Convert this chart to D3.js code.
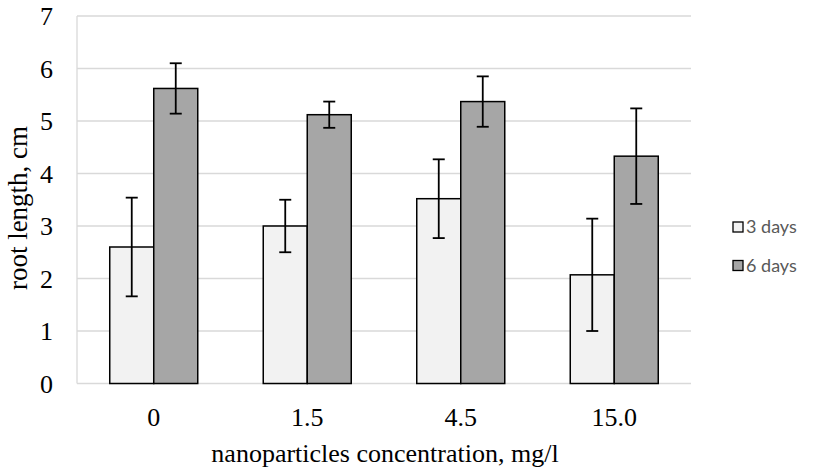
<!DOCTYPE html>
<html><head><meta charset="utf-8">
<script src="https://cdn.jsdelivr.net/npm/d3@7"></script>
<style>body{margin:0;background:#fff}svg{display:block}</style>
</head><body>
<svg id="c" width="815" height="473"></svg>
<script>
const categories = ["0", "1.5", "4.5", "15.0"];
const seriesNames = ["3 days", "6 days"];
const days3 = [2.60, 3.00, 3.52, 2.07];
const days6 = [5.62, 5.12, 5.37, 4.33];
const err3 = [0.94, 0.50, 0.75, 1.07];
const err6 = [0.48, 0.25, 0.48, 0.91];
const yTicks = [0, 1, 2, 3, 4, 5, 6, 7];

const colors = ["#f2f2f2", "#a6a6a6"];
const svg = d3.select("#c");
const L = 77, R = 691, T = 16, B = 383.5;

const x = d3.scaleBand().domain(categories).range([L, R]).paddingInner(0.4267).paddingOuter(0.2133);
const xs = d3.scaleBand().domain(seriesNames).range([0, x.bandwidth()]);
const y = d3.scaleLinear().domain([0, 7]).range([B, T]);

// gridlines
svg.append("g").selectAll("line").data(yTicks.filter(d => d > 0)).join("line")
  .attr("x1", L).attr("x2", R).attr("y1", d => y(d)).attr("y2", d => y(d))
  .attr("stroke", "#d9d9d9").attr("stroke-width", 1.3);
svg.append("line").attr("x1", L).attr("x2", L).attr("y1", T).attr("y2", B).attr("stroke", "#d9d9d9").attr("stroke-width", 1.3);
svg.append("line").attr("x1", L).attr("x2", R).attr("y1", B).attr("y2", B).attr("stroke", "#d9d9d9").attr("stroke-width", 1.3);

// y axis
const yAxis = d3.axisLeft(y).tickValues(yTicks).tickFormat(d3.format("d")).tickSize(0).tickPadding(0);
const gy = svg.append("g").attr("transform", `translate(53,0)`).call(yAxis);
gy.select(".domain").remove();
gy.selectAll("text").attr("font-family", "Liberation Serif").attr("font-size", 26).attr("fill", "#000").attr("text-anchor", "end").attr("x", 0).attr("dy", "0.34em");

// x axis
const xAxis = d3.axisBottom(x).tickSize(0).tickPadding(0);
const gx = svg.append("g").attr("transform", `translate(0,426)`).call(xAxis);
gx.select(".domain").remove();
gx.selectAll("text").attr("font-family", "Liberation Serif").attr("font-size", 26).attr("fill", "#000").attr("y", 0).attr("dy", "0");

const data = categories.map((c, i) => ({c, vals: [
  {s: seriesNames[0], v: days3[i], e: err3[i], k: 0},
  {s: seriesNames[1], v: days6[i], e: err6[i], k: 1}]}));

const grp = svg.append("g").selectAll("g").data(data).join("g")
  .attr("transform", d => `translate(${x(d.c)},0)`);
grp.selectAll("rect").data(d => d.vals).join("rect")
  .attr("x", d => xs(d.s)).attr("width", xs.bandwidth())
  .attr("y", d => y(d.v)).attr("height", d => y(0) - y(d.v))
  .attr("fill", d => colors[d.k]).attr("stroke", "#000").attr("stroke-width", 1.5);

// error bars
const eb = grp.selectAll("g.eb").data(d => d.vals).join("g").attr("class", "eb");
const cx = d => xs(d.s) + xs.bandwidth() / 2;
eb.append("line").attr("x1", cx).attr("x2", cx).attr("y1", d => y(d.v + d.e)).attr("y2", d => y(d.v - d.e)).attr("stroke", "#000").attr("stroke-width", 1.8);
eb.append("line").attr("x1", d => cx(d) - 6).attr("x2", d => cx(d) + 6).attr("y1", d => y(d.v + d.e)).attr("y2", d => y(d.v + d.e)).attr("stroke", "#000").attr("stroke-width", 1.8);
eb.append("line").attr("x1", d => cx(d) - 6).attr("x2", d => cx(d) + 6).attr("y1", d => y(d.v - d.e)).attr("y2", d => y(d.v - d.e)).attr("stroke", "#000").attr("stroke-width", 1.8);

// axis titles
svg.append("text").attr("x", 385).attr("y", 462).attr("text-anchor", "middle")
  .attr("font-family", "Liberation Serif").attr("font-size", 26).attr("fill", "#000")
  .text("nanoparticles concentration, mg/l");
svg.append("text").attr("transform", `translate(27,208) rotate(-90)`).attr("text-anchor", "middle")
  .attr("font-family", "Liberation Serif").attr("font-size", 27).attr("fill", "#000")
  .text("root length, cm");

// legend
const lg = svg.append("g").selectAll("g").data(seriesNames).join("g")
  .attr("transform", (d, i) => `translate(733,${222 + i * 38.5})`);
lg.append("rect").attr("width", 10).attr("height", 10).attr("fill", (d, i) => colors[i]).attr("stroke", "#000").attr("stroke-width", 1.3);
lg.append("text").attr("x", 13).attr("y", 5).attr("dy", "0.36em").attr("font-family", "Lato").attr("font-size", 18).attr("fill", "#595959").text(d => d);
</script>
</body></html>
